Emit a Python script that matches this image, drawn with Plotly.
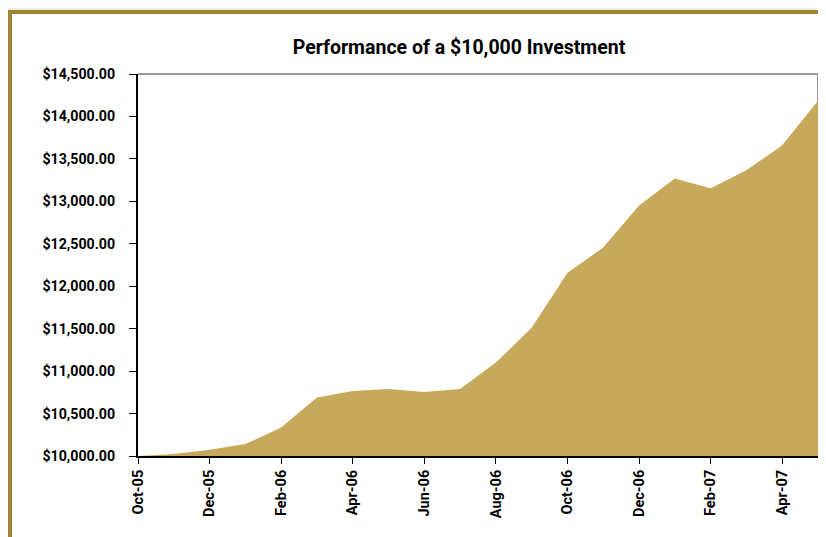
import plotly.graph_objects as go

months = ["Oct-05", "Nov-05", "Dec-05", "Jan-06", "Feb-06", "Mar-06", "Apr-06", "May-06",
          "Jun-06", "Jul-06", "Aug-06", "Sep-06", "Oct-06", "Nov-06", "Dec-06", "Jan-07",
          "Feb-07", "Mar-07", "Apr-07", "May-07"]
values = [10000, 10025, 10075, 10140, 10335, 10688, 10765, 10790,
          10755, 10790, 11100, 11510, 12160, 12455, 12950, 13270,
          13155, 13365, 13660, 14185]
tick_labels = months[0::2]
y_ticks = [10000, 10500, 11000, 11500, 12000, 12500, 13000, 13500, 14000, 14500]

W, H = 826, 537
OFF = 8  # page body margin offsets the figure in the window
# plot area in window pixel coordinates
L, R, T, B = 138, 818, 74, 456
Lf, Rf, Tf, Bf = L - OFF, R - OFF, T - OFF, B - OFF

fig = go.Figure()
fig.add_trace(go.Scatter(
    x=list(range(len(months))), y=values, mode="lines",
    line=dict(width=0, color="#C6A95B"), fill="tozeroy", fillcolor="#C6A95B",
    hoverinfo="skip", showlegend=False))

font_family = "Roboto, Liberation Sans, sans-serif"

def px_x(p):  # window px -> paper
    return (p - L) / (R - L)

def px_y(p):
    return (B - p) / (B - T)

shapes = [
    dict(type="line", xref="paper", yref="paper", x0=0, x1=1, y0=1, y1=1,
         line=dict(color="#999999", width=2), layer="below"),
    dict(type="line", xref="paper", yref="paper", x0=1, x1=1, y0=0, y1=1,
         line=dict(color="#999999", width=2), layer="below"),
    dict(type="line", xref="paper", yref="paper", x0=px_x(10), x1=px_x(10),
         y0=px_y(560), y1=px_y(10), line=dict(color="#A08436", width=4)),
    dict(type="line", xref="paper", yref="paper", x0=px_x(8), x1=px_x(840),
         y0=px_y(12), y1=px_y(12), line=dict(color="#A08436", width=4)),
    dict(type="line", xref="paper", yref="paper", x0=px_x(8), x1=px_x(840),
         y0=px_y(9), y1=px_y(9), line=dict(color="#E2DCCF", width=1)),
]

fig.update_layout(
    width=W, height=H,
    margin=dict(l=Lf, r=W - Rf, t=Tf, b=H - Bf, autoexpand=False),
    paper_bgcolor="white", plot_bgcolor="white",
    shapes=shapes,
    showlegend=False,
    title=dict(text="<b>Performance of a $10,000 Investment</b>",
               x=(459 - OFF) / W, xanchor="center", xref="container",
               y=1 - (47 - OFF) / H, yanchor="middle", yref="container",
               font=dict(family=font_family, size=19.5, color="black")),
    xaxis=dict(range=[0, len(months) - 1], tickmode="array",
               tickvals=list(range(0, len(months), 2)), ticktext=tick_labels,
               tickangle=-90, ticks="outside", ticklen=6, tickcolor="black",
               showline=True, linecolor="black", linewidth=2, showgrid=False,
               zeroline=False, automargin=False,
               tickfont=dict(family=font_family, size=14.5, color="black", weight="bold")),
    yaxis=dict(range=[10000, 14500], tickmode="array", tickvals=y_ticks,
               tickformat="$,.2f", ticks="outside", ticklen=7, tickcolor="black",
               showline=True, linecolor="black", linewidth=2, showgrid=False,
               zeroline=False, ticklabelstandoff=11, automargin=False,
               tickfont=dict(family=font_family, size=14.2, color="black", weight="bold")),
)

fig.write_html("out.html")
